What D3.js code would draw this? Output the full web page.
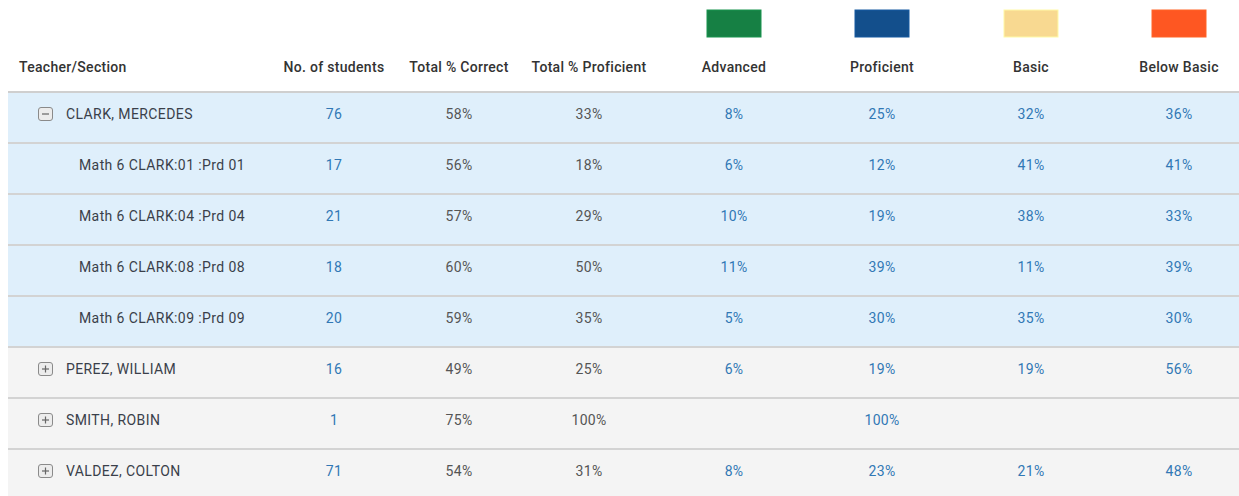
<!DOCTYPE html>
<html><head><meta charset="utf-8">
<script src="https://cdn.jsdelivr.net/npm/d3@7"></script>
<style>
html,body{margin:0;padding:0;background:#fff;}
svg{display:block;font-family:Roboto,"Noto Sans",sans-serif;}
</style></head>
<body>
<svg id="chart" width="1239" height="496"></svg>
<script>
// ---- data ----
const columns = ["Teacher/Section","No. of students","Total % Correct","Total % Proficient","Advanced","Proficient","Basic","Below Basic"];
const levels = ["Advanced","Proficient","Basic","Below Basic"];
const levelColors = ["#168044","#134f8c","#f8d991","#fe5722"];
const rowNames = ["CLARK, MERCEDES","Math 6 CLARK:01 :Prd 01","Math 6 CLARK:04 :Prd 04","Math 6 CLARK:08 :Prd 08","Math 6 CLARK:09 :Prd 09","PEREZ, WILLIAM","SMITH, ROBIN","VALDEZ, COLTON"];
const rowLevel = [0,1,1,1,1,0,0,0];          // 0 = teacher, 1 = section
const rowExpanded = [true,null,null,null,null,false,false,false];
const rowGroup = ["clark","clark","clark","clark","clark","other","other","other"];
const students = [76,17,21,18,20,16,1,71];
const totalCorrect = ["58%","56%","57%","60%","59%","49%","75%","54%"];
const totalProficient = ["33%","18%","29%","50%","35%","25%","100%","31%"];
const advanced = ["8%","6%","10%","11%","5%","6%","","8%"];
const proficient = ["25%","12%","19%","39%","30%","19%","100%","23%"];
const basic = ["32%","41%","38%","11%","35%","19%","","21%"];
const belowBasic = ["36%","41%","33%","39%","30%","56%","","48%"];

// ---- layout ----
const W = 1239, H = 496;
const svg = d3.select("#chart");
const left = 8, headerLine = 92, rowH = 51;
const colCenters = [null,334,459,589,734,882,1031,1179];
const x = d3.scaleOrdinal().domain(columns).range(colCenters);
const y = d3.scaleBand().domain(d3.range(rowNames.length)).range([headerLine, headerLine + rowH*rowNames.length]).padding(0);
const bg = {clark:"#dfeffb", other:"#f4f4f4"};

// legend swatches
svg.selectAll("rect.sw").data(levels).join("rect")
  .attr("class","sw")
  .attr("x", d => x(d) - 27).attr("y", 10)
  .attr("width", 54).attr("height", 27)
  .attr("fill", (d,i) => levelColors[i])
  .attr("stroke", (d,i) => d3.color(levelColors[i]).brighter(0.4))
  .attr("stroke-width", 1);

// header labels
svg.selectAll("text.hdr").data(columns).join("text")
  .attr("class","hdr")
  .attr("x", (d,i) => i === 0 ? 19 : x(d))
  .attr("y", 72)
  .attr("text-anchor", (d,i) => i === 0 ? "start" : "middle")
  .attr("font-size", 14).attr("font-weight", 500)
  .attr("letter-spacing", 0.3)
  .attr("fill", "#333")
  .text(d => d);

// rows
const rows = svg.selectAll("g.row").data(d3.range(rowNames.length)).join("g")
  .attr("class","row")
  .attr("transform", i => `translate(0,${y(i)})`);

rows.append("rect")
  .attr("x", left).attr("y", 0).attr("width", W - left).attr("height", y.bandwidth())
  .attr("fill", i => bg[rowGroup[i]]);

rows.append("rect")
  .attr("x", left).attr("y", -1).attr("width", W - left).attr("height", 2)
  .attr("fill", i => i === 0 ? "#cfcfcf" : "#d3d3d3");

// expand/collapse icons
const icons = rows.filter(i => rowLevel[i] === 0).append("g")
  .attr("transform", `translate(38,${15})`);
icons.append("rect")
  .attr("x", 0.5).attr("y", 0.5).attr("width", 14).attr("height", 13).attr("rx", 2.5)
  .attr("fill", "#ececec").attr("stroke", "#8a8a8a").attr("stroke-width", 1);
icons.append("line")
  .attr("x1", 4).attr("x2", 11).attr("y1", 7).attr("y2", 7)
  .attr("stroke", "#666").attr("stroke-width", 1.2);
icons.filter(i => !rowExpanded[i]).append("line")
  .attr("x1", 7.5).attr("x2", 7.5).attr("y1", 3.5).attr("y2", 10.5)
  .attr("stroke", "#666").attr("stroke-width", 1.2);

// names
rows.append("text")
  .attr("x", i => rowLevel[i] === 0 ? 66 : 79)
  .attr("y", 27)
  .attr("font-size", 14)
  .attr("letter-spacing", 0.4)
  .attr("fill", "#3a3f4a")
  .text(i => rowNames[i]);

const cellCols = [
  {col:"No. of students", vals:students, color:"#3178b5"},
  {col:"Total % Correct", vals:totalCorrect, color:"#555"},
  {col:"Total % Proficient", vals:totalProficient, color:"#555"},
  {col:"Advanced", vals:advanced, color:"#3178b5"},
  {col:"Proficient", vals:proficient, color:"#3178b5"},
  {col:"Basic", vals:basic, color:"#3178b5"},
  {col:"Below Basic", vals:belowBasic, color:"#3178b5"}
];
cellCols.forEach(c => {
  rows.append("text")
    .attr("x", x(c.col)).attr("y", 27)
    .attr("text-anchor","middle")
    .attr("font-size", 14)
    .attr("letter-spacing", 0.3)
    .attr("fill", c.color)
    .text(i => c.vals[i]);
});
</script>
</body></html>
